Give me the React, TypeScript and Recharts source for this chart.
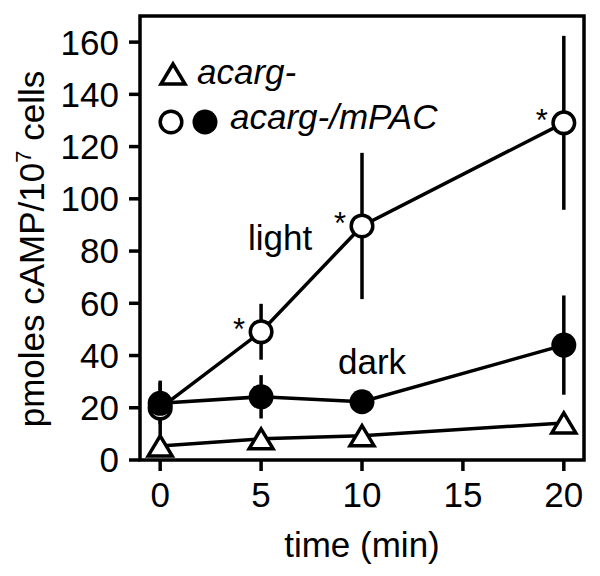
import React from 'react';
import {
  ComposedChart,
  Line,
  XAxis,
  YAxis,
  ErrorBar,
  ReferenceArea,
  Customized,
} from 'recharts';

const FONT = '"Liberation Sans", Arial, sans-serif';

const times = [0, 5, 10, 20];
const acarg = [5.4, 8.1, 9.3, 14.2];
const light = [19.9, 49.1, 89.6, 129.1];
const lightErr = [10.5, 10.7, 28, 33.3];
const dark = [21.7, 24.2, 22.3, 44];
const darkErr = [8, 8.3, 1, 19];
const lightStar = [false, true, true, true];
const xTicks = [0, 5, 10, 15, 20];
const yTicks = [0, 20, 40, 60, 80, 100, 120, 140, 160];

const data = times.map((t, i) => ({
  time: t,
  acarg: acarg[i],
  light: light[i],
  lightErr: lightErr[i],
  dark: dark[i],
  darkErr: darkErr[i],
}));

const SW = 3.5;

function Triangle({ cx, cy }: { cx: number; cy: number }) {
  return (
    <path
      d={`M${cx},${cy - 10} L${cx + 12},${cy + 10} L${cx - 12},${cy + 10} Z`}
      fill="#fff"
      stroke="#000"
      strokeWidth={SW}
    />
  );
}

const triDot = (p: any) => <Triangle key={`t${p.index}`} cx={p.cx} cy={p.cy} />;
const openDot = (p: any) => (
  <circle key={`o${p.index}`} cx={p.cx} cy={p.cy} r={10.8} fill="#fff" stroke="#000" strokeWidth={SW} />
);
const fillDot = (p: any) => (
  <circle key={`f${p.index}`} cx={p.cx} cy={p.cy} r={12.5} fill="#000" />
);

const starLabel = (p: any) => {
  if (!lightStar[p.index]) return null;
  return (
    <text key={`s${p.index}`} x={p.x - 22} y={p.y + 8} textAnchor="middle" fontSize={31} fontFamily={FONT} fill="#000">
      *
    </text>
  );
};

function Overlay() {
  return (
    <g fontFamily={FONT} fill="#000">
      <Triangle cx={173} cy={74} />
      <text x={197} y={84} fontSize={35} fontStyle="italic">acarg-</text>
      <circle cx={171} cy={122} r={10.8} fill="#fff" stroke="#000" strokeWidth={SW} />
      <circle cx={205} cy={122} r={12.5} fill="#000" />
      <text x={230} y={129} fontSize={35} fontStyle="italic">acarg-/mPAC</text>
      <text x={248} y={250} fontSize={35}>light</text>
      <text x={338} y={374} fontSize={35}>dark</text>
      <text x={44} y={249} fontSize={35} textAnchor="middle" transform="rotate(-90 44 249)">
        pmoles cAMP/10<tspan dy={-13} fontSize={22}>7</tspan>
        <tspan dy={13}> cells</tspan>
      </text>
      <text x={362} y={557} fontSize={35} textAnchor="middle">time (min)</text>
    </g>
  );
}

export default function App() {
  return (
    <div style={{ position: 'absolute', left: 0, top: 0, width: 600, height: 576, background: '#fff' }}>
      <ComposedChart width={600} height={576} data={data} margin={{ top: 16, right: 16, bottom: 0, left: 0 }}>
        <XAxis
          dataKey="time"
          type="number"
          domain={[-1, 21]}
          ticks={xTicks}
          allowDataOverflow
          axisLine={false}
          tickLine={{ stroke: '#000', strokeWidth: SW }}
          tickSize={11}
          tickMargin={11}
          height={116}
          tick={{ fontSize: 35, fill: '#000', fontFamily: FONT }}
        />
        <YAxis
          type="number"
          domain={[0, 170]}
          ticks={yTicks}
          allowDataOverflow
          axisLine={false}
          tickLine={{ stroke: '#000', strokeWidth: SW }}
          tickSize={11}
          tickMargin={10}
          width={140}
          tick={{ fontSize: 35, fill: '#000', fontFamily: FONT }}
        />
        <ReferenceArea x1={-1} x2={21} y1={0} y2={170} fill="none" stroke="#000" strokeWidth={SW} ifOverflow="visible" />
        <Line dataKey="acarg" stroke="#000" strokeWidth={SW} dot={triDot} isAnimationActive={false} />
        <Line dataKey="light" stroke="#000" strokeWidth={SW} dot={openDot} label={starLabel} isAnimationActive={false}>
          <ErrorBar dataKey="lightErr" width={0} stroke="#000" strokeWidth={SW} direction="y" isAnimationActive={false} />
        </Line>
        <Line dataKey="dark" stroke="#000" strokeWidth={SW} dot={fillDot} isAnimationActive={false}>
          <ErrorBar dataKey="darkErr" width={0} stroke="#000" strokeWidth={SW} direction="y" isAnimationActive={false} />
        </Line>
        <Customized component={Overlay} />
      </ComposedChart>
    </div>
  );
}
